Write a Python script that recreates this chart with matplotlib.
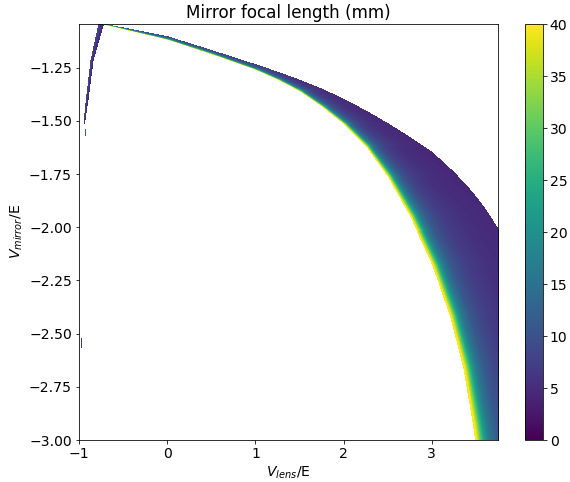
import numpy as np
import matplotlib
matplotlib.use("Agg")
import matplotlib.pyplot as plt

plt.rcParams['font.size'] = 14

# upper (right/top) edge of the filled region
upper_x = [-0.73, 0.0, 0.5, 1.0, 1.25, 1.5, 1.75, 2.0, 2.25, 2.5, 2.75, 3.0, 3.25, 3.45, 3.6,
           3.7, 3.76]
upper_y = [-1.045, -1.105, -1.17, -1.237, -1.272, -1.31, -1.352, -1.40, -1.455, -1.515, -1.58,
           -1.65, -1.745, -1.835, -1.915, -1.98, -2.02]

# lower (yellow) edge, where the focal length blows up
lower_x = [-0.73, 0.0, 0.5, 1.0, 1.25, 1.5, 1.75, 2.0, 2.25, 2.5, 2.75, 3.0, 3.2, 3.35, 3.46, 3.49]
lower_y = [-1.05, -1.122, -1.19, -1.264, -1.31, -1.365, -1.437, -1.52, -1.625, -1.77, -1.955,
           -2.18, -2.42, -2.66, -2.93, -3.02]

# thin left branch below the peak
left_y = [-1.52, -1.41, -1.217, -1.045]
left_lo = [-0.955, -0.93, -0.875, -0.785]
left_hi = [-0.94, -0.90, -0.84, -0.72]

# couple of stray cells on the left edge
stray_x = [-0.93, -0.975]
stray_y0 = [-1.575, -2.57]
stray_y1 = [-1.54, -2.52]
stray_v = [12, 6]

# colour falloff away from the yellow edge (distance in units of decay length)
prof_u = [0, 0.2, 0.5, 0.8, 1.2, 2, 3, 4, 6, 10, 30]
prof_v = [50, 38, 29, 22, 16, 11, 8.5, 7, 5.5, 4.5, 4]
decay_y = [-3.0, -2.5, -2.0, -1.5, -1.3, -1.045]
decay_px = [12.0, 10.0, 8.0, 3.0, 1.5, 1.0]

xmin, xmax = -1.0, 3.75
ymin, ymax = -3.0, -1.045
nx, ny = 420, 416
xc = np.linspace(xmin, xmax, nx)
yc = np.linspace(ymin, ymax, ny)
X, Y = np.meshgrid(xc, yc)
sx = 88.3   # px per unit along x
sy = 209.6  # px per unit along y

xl = np.interp(yc, lower_y[::-1], lower_x[::-1])
slope = np.gradient(xl, yc) * sx / sy
XL = xl[:, None]
perp = (X - XL) * sx / np.sqrt(1 + slope[:, None] ** 2)
dec = np.interp(yc, decay_y, decay_px)[:, None]
val = np.interp(perp / dec, prof_u, prof_v)

up = np.interp(xc, upper_x, upper_y)[None, :]
main = (X >= XL) & (Y <= up) & (X >= -0.75)
Z = np.where(main, val, np.nan)

lo = np.interp(yc, left_y, left_lo)[:, None]
hi = np.interp(yc, left_y, left_hi)[:, None]
left = (X >= lo) & (X <= hi) & (Y >= left_y[0])
frac = (X - lo) / (hi - lo)
Z = np.where(left & np.isnan(Z), 9 - 5 * frac, Z)

for sxv, a, b, v in zip(stray_x, stray_y0, stray_y1, stray_v):
    i = np.argmin(np.abs(xc - sxv))
    rows = (yc >= a) & (yc <= b)
    Z[rows, i] = v

fig = plt.figure(figsize=(570 / 72, 482 / 72), dpi=72)
ax = fig.add_axes([0.1386, 0.0871, 0.7351, 0.8631])
cax = fig.add_axes([0.921, 0.0871, 0.031, 0.8631])
im = ax.imshow(Z, origin='lower', extent=[xmin, xmax, ymin, ymax], aspect='auto',
               cmap='viridis', vmin=0, vmax=40, interpolation='nearest')
ax.set_xlim(xmin, xmax)
ax.set_ylim(ymin, ymax)
ax.set_xticks([-1, 0, 1, 2, 3])
ax.set_yticks([-3.0, -2.75, -2.5, -2.25, -2.0, -1.75, -1.5, -1.25])
ax.set_title('Mirror focal length (mm)')
ax.set_xlabel('$V_{lens}$/E')
ax.set_ylabel('$V_{mirror}$/E')
fig.colorbar(im, cax=cax, ticks=range(0, 41, 5))
fig.savefig('out.png', dpi=72)
